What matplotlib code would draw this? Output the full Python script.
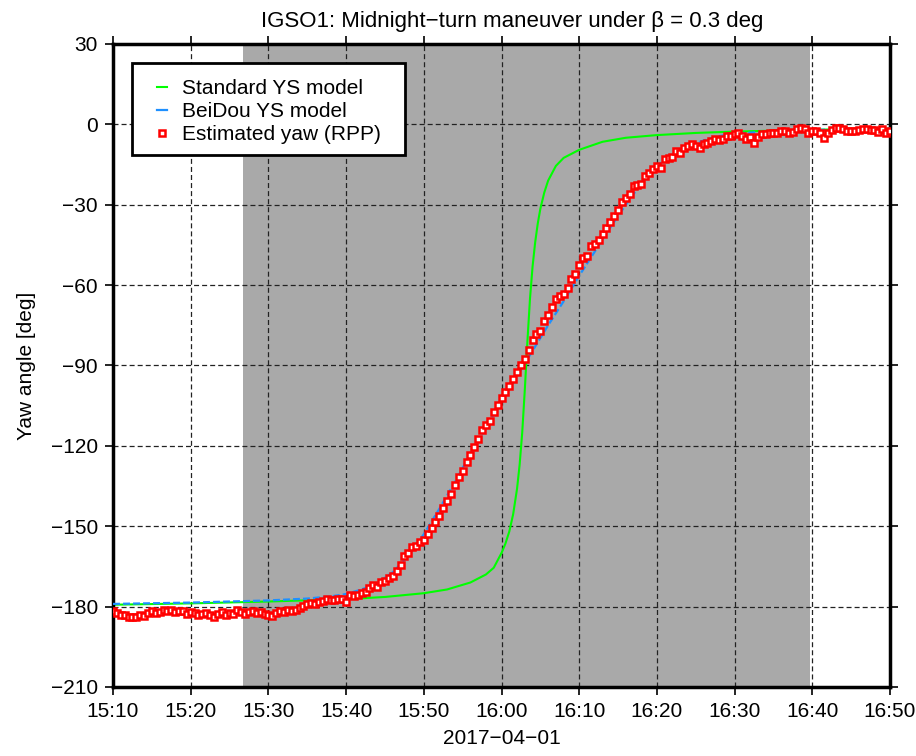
import pandas as pd
import numpy as np
import matplotlib
matplotlib.use('Agg')
import matplotlib.pyplot as plt
import matplotlib.dates as mdates
from matplotlib.patches import Rectangle
from matplotlib.lines import Line2D

plt.rcParams['font.family'] = ['Liberation Sans', 'DejaVu Sans']
plt.rcParams['lines.scale_dashes'] = False

DAY = '2017-04-01 '

# eclipse / shaded interval
shade_span = ['15:26:40', '16:39:40']

# standard yaw-steering model
green_time = ['15:10:00', '15:20:00', '15:30:00', '15:40:00', '15:45:00', '15:50:00',
              '15:53:00', '15:56:00', '15:58:00', '15:59:00', '16:00:00', '16:00:30',
              '16:01:00', '16:01:30', '16:02:00', '16:02:20', '16:02:40', '16:03:00',
              '16:03:10', '16:03:20', '16:03:40', '16:04:00', '16:04:20', '16:04:40',
              '16:05:00', '16:05:30', '16:06:00', '16:07:00', '16:08:00', '16:10:00',
              '16:13:00', '16:16:00', '16:20:00', '16:25:00', '16:30:00', '16:40:00',
              '16:50:00']
green_yaw = [-179.3, -178.8, -178.1, -177.2, -176.4, -175.0,
             -173.6, -171.0, -168.0, -165.5, -160.0, -156.5,
             -152.0, -145.5, -136.0, -127.0, -115.0, -99.0,
             -90.0, -81.0, -65.0, -53.0, -44.0, -37.0,
             -31.5, -25.5, -21.0, -15.5, -12.5, -9.5,
             -6.5, -5.0, -4.0, -3.2, -2.7, -2.0,
             -1.6]

# BeiDou yaw-steering model
blue_time = ['15:10', '15:20', '15:30', '15:35', '15:38', '15:40', '15:42', '15:44',
             '15:46', '15:48', '15:50', '15:52', '15:54', '15:56', '15:58', '16:00',
             '16:02', '16:04', '16:06', '16:08', '16:10', '16:12', '16:14', '16:16',
             '16:18', '16:20', '16:22', '16:24', '16:26', '16:28', '16:30', '16:35',
             '16:40', '16:45', '16:50']
blue_yaw = [-179.0, -178.5, -177.7, -177.0, -176.2, -175.3, -173.6, -171.2,
            -167.2, -161.0, -153.0, -143.5, -133.5, -123.0, -113.0, -103.5,
            -94.0, -84.5, -75.0, -66.0, -56.5, -47.5, -38.5, -30.0,
            -22.0, -15.5, -11.2, -8.2, -6.0, -4.4, -3.4, -2.6,
            -2.1, -1.8, -1.5]

# estimated yaw (RPP), 30 s epochs from 15:10:00 to 16:50:00
est_start, est_end = '15:10:00', '16:50:00'
est_yaw = [
    -181.5, -182.4, -183.0, -183.2, -183.9, -184.0, -183.7, -183.2, -183.4, -182.5,
    -181.8, -182.4, -182.0, -181.2, -181.6, -181.4, -182.2, -181.5, -181.8, -182.6,
    -182.0, -182.4, -183.0, -182.6, -182.4, -183.0, -183.7, -182.8, -182.2, -183.0,
    -182.4, -182.8, -181.4, -182.0, -182.6, -182.2, -181.8, -182.5, -182.2, -182.8,
    -183.0, -183.4, -182.4, -181.8, -182.0, -181.4, -181.6, -181.2, -180.4, -179.9,
    -179.0, -178.7, -178.9, -178.1, -177.8, -177.2, -177.5, -177.7, -177.2, -177.0,
    -178.1, -175.6, -176.0, -175.6, -175.1, -174.4, -173.2, -171.9, -172.5, -171.0,
    -170.6, -169.3, -168.4, -166.8, -164.3, -161.2, -160.0, -157.8, -157.5, -155.8,
    -155.0, -152.8, -150.6, -148.4, -146.0, -143.2, -140.7, -137.8, -134.5, -131.6,
    -129.2, -126.0, -123.3, -120.6, -117.5, -114.0, -112.2, -110.8, -107.5, -104.8,
    -102.0, -99.8, -97.6, -95.0, -92.6, -89.8, -87.5, -84.3, -80.6, -78.4,
    -77.2, -73.5, -71.3, -68.0, -65.2, -64.1, -63.3, -61.2, -57.9, -55.8,
    -52.4, -50.0, -49.2, -45.5, -44.5, -43.0, -41.1, -38.6, -36.4, -34.2,
    -31.8, -29.0, -27.4, -26.1, -23.0, -22.6, -22.4, -19.3, -18.0, -16.8,
    -15.6, -16.2, -13.1, -12.4, -12.0, -10.0, -10.6, -8.7, -8.1, -7.5,
    -8.0, -8.7, -7.2, -6.8, -6.2, -5.6, -6.0, -5.6, -4.4, -4.4,
    -3.7, -3.1, -4.4, -5.6, -4.9, -6.8, -4.9, -3.7, -3.7, -3.1,
    -3.1, -3.1, -2.5, -2.5, -3.1, -2.8, -1.9, -1.2, -1.9, -3.1,
    -2.5, -2.5, -3.1, -5.0, -3.1, -2.2, -1.2, -1.5, -1.9, -2.5,
    -2.5, -2.5, -2.2, -1.9, -1.9, -2.2, -2.2, -2.8, -1.8, -3.1,
    -2.4]

labels = ['Standard YS model', 'BeiDou YS model', 'Estimated yaw (RPP)']
GREEN = '#00ff00'
BLUE = '#1e90ff'


def to_times(hhmm):
    return pd.to_datetime([DAY + s for s in hhmm])


green_t = to_times(green_time)
blue_t = to_times(blue_time)
est_t = pd.date_range(DAY + est_start, DAY + est_end, freq='30s')
shade_t = to_times(shade_span)

fig = plt.figure(figsize=(9.16, 7.56), dpi=100)
ax = fig.add_axes([0.1234, 0.0913, 0.8482, 0.8505])

ax.axvspan(shade_t[0], shade_t[1], color='#a9a9a9', lw=0, zorder=0.2)
ax.plot(green_t, green_yaw, color=GREEN, lw=1.5, zorder=2)
ax.plot(blue_t, blue_yaw, color=BLUE, lw=1.6, dashes=(5.0, 2.2), zorder=3)
ax.plot(est_t, est_yaw, ls='none', marker='s', ms=4.6, mfc='white', mec='red',
        mew=1.8, zorder=4)

ax.set_xlim(to_times(['15:10'])[0], to_times(['16:50'])[0])
ax.set_ylim(-210, 30)
ax.set_yticks(np.arange(-210, 31, 30))
ax.xaxis.set_major_locator(mdates.MinuteLocator(byminute=range(0, 60, 10)))
ax.xaxis.set_major_formatter(mdates.DateFormatter('%H:%M'))

ax.set_axisbelow(True)
ax.grid(True, color='#222222', lw=0.9, ls=(0, (3.6, 2.2)))
ax.tick_params(direction='out', length=5.8, width=1.2, top=True, right=True,
               labelsize=15, pad=5)
for s in ax.spines.values():
    s.set_linewidth(2.5)

ax.set_title('IGSO1: Midnight\u2212turn maneuver under \u03b2 = 0.3 deg',
             fontsize=16, x=0.514, pad=12)
ax.set_ylabel('Yaw angle [deg]', fontsize=15, labelpad=11)
ax.set_xlabel('2017\u221204\u221201', fontsize=15, labelpad=6)

# legend: frame drawn by hand, entries without frame
ax.add_patch(Rectangle((0.0241, 0.8274), 0.3517, 0.1426, transform=ax.transAxes,
                       facecolor='white', edgecolor='black', lw=2.0, zorder=5))
handles = [Line2D([], [], color=GREEN, lw=1.5),
           Line2D([], [], color=BLUE, lw=1.6),
           Line2D([], [], ls='none', marker='s', ms=4.6, mfc='white', mec='red', mew=1.8)]
leg = ax.legend(handles, labels, loc='upper left', bbox_to_anchor=(0.0562, 0.9455),
                frameon=False, borderpad=0, borderaxespad=0, fontsize=15,
                handlelength=0.48, handletextpad=0.72, labelspacing=0.2)
leg.set_zorder(6)

fig.savefig('out.png', dpi=100)
